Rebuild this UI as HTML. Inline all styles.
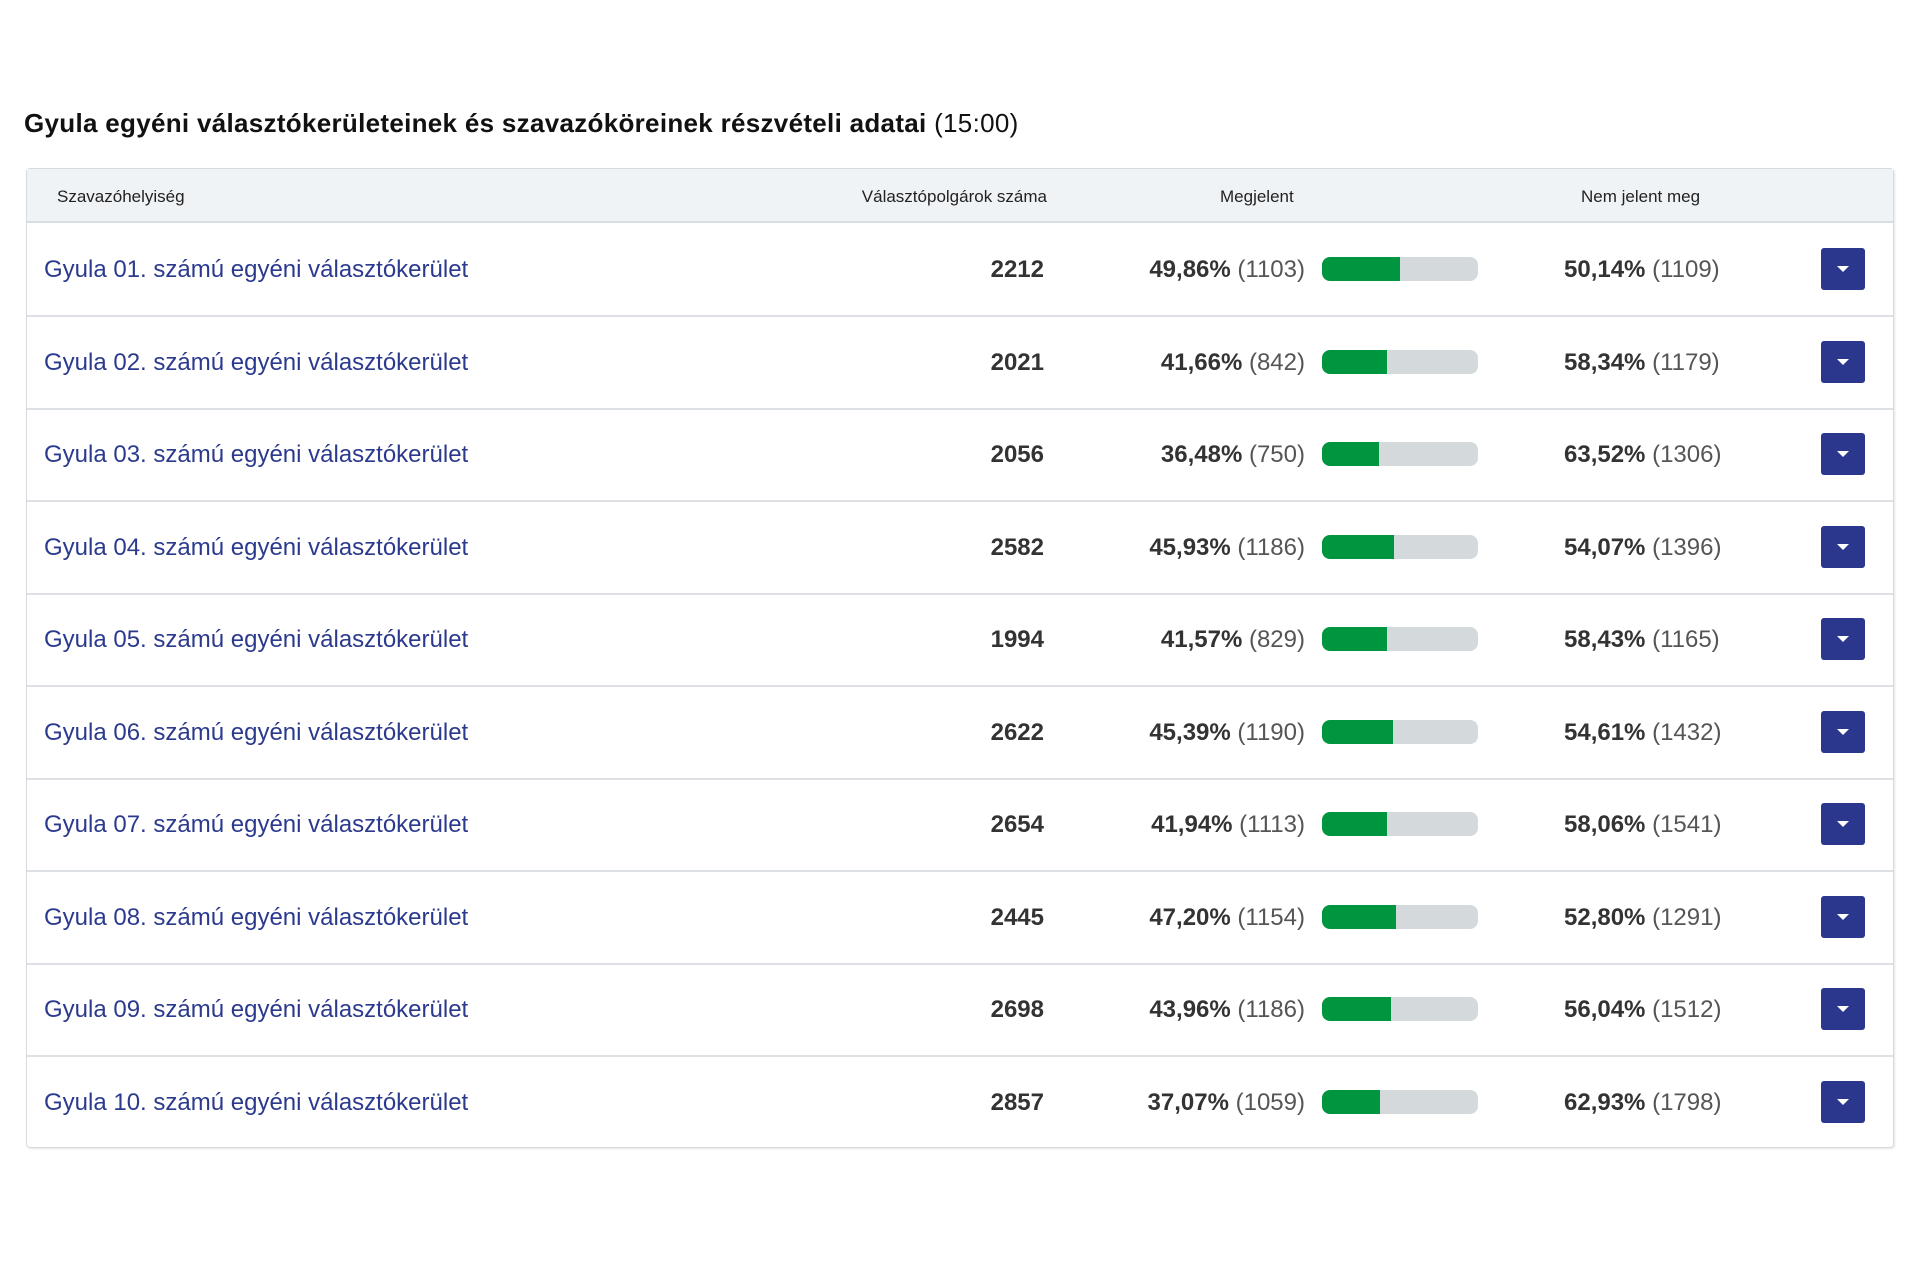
<!DOCTYPE html>
<html><head><meta charset="utf-8"><style>
body{margin:0;width:1920px;height:1280px;background:#fff;font-family:"Liberation Sans",sans-serif;position:relative;overflow:hidden}
.t{position:absolute;left:24px;top:108px;font-size:26px;color:#111;white-space:nowrap;letter-spacing:0.3px}
.tbl{position:absolute;left:26px;top:168px;width:1866px;height:978px;border:1px solid #d6dbe0;border-radius:4px;box-shadow:1px 1px 2px rgba(0,0,0,.1)}
.hd{position:absolute;left:0;top:0;right:0;height:52px;background:#f0f3f6;border-bottom:2px solid #d8dde2;font-size:17px;color:#222}
.hd span{position:absolute;top:18px;white-space:nowrap}
.row{position:absolute;left:0;right:0;height:92px;border-bottom:2px solid #dde1e5}
.row:last-child{border-bottom:none}
.row>*{position:absolute;white-space:nowrap}
.nm{left:17px;top:33px;font-size:24px;color:#2c3a8e}
.num{right:849px;top:33px;font-size:24px;font-weight:bold;color:#333}
.pc{right:588px;top:33px;font-size:24px;color:#555}
.pc b,.nj b{color:#333}
.bar{left:1295px;top:34px;width:156px;height:24px;border-radius:8px;background:#d4dadc;overflow:hidden}
.bar i{display:block;height:100%;background:#00963f}
.nj{left:1537px;top:33px;font-size:24px;color:#555}
.btn{left:1794px;top:25px;width:44px;height:42px;background:#2b378c;border-radius:3px}
.btn:after{content:"";position:absolute;left:16px;top:18px;border-left:6px solid transparent;border-right:6px solid transparent;border-top:6px solid #fff}
</style></head><body>
<div class="t"><b>Gyula egyéni választókerületeinek és szavazóköreinek részvételi adatai</b> (15:00)</div>
<div class="tbl">
<div class="hd"><span style="left:30px">Szavazóhelyiség</span><span style="right:846px">Választópolgárok száma</span><span style="left:1193px">Megjelent</span><span style="left:1554px">Nem jelent meg</span></div>
<div class="row" style="top:54px"><span class="nm">Gyula 01. számú egyéni választókerület</span><span class="num">2212</span><span class="pc"><b>49,86%</b> (1103)</span><span class="bar"><i style="width:49.86%"></i></span><span class="nj"><b>50,14%</b> (1109)</span><span class="btn"></span></div>
<div class="row" style="top:146.5px"><span class="nm">Gyula 02. számú egyéni választókerület</span><span class="num">2021</span><span class="pc"><b>41,66%</b> (842)</span><span class="bar"><i style="width:41.66%"></i></span><span class="nj"><b>58,34%</b> (1179)</span><span class="btn"></span></div>
<div class="row" style="top:239px"><span class="nm">Gyula 03. számú egyéni választókerület</span><span class="num">2056</span><span class="pc"><b>36,48%</b> (750)</span><span class="bar"><i style="width:36.48%"></i></span><span class="nj"><b>63,52%</b> (1306)</span><span class="btn"></span></div>
<div class="row" style="top:331.5px"><span class="nm">Gyula 04. számú egyéni választókerület</span><span class="num">2582</span><span class="pc"><b>45,93%</b> (1186)</span><span class="bar"><i style="width:45.93%"></i></span><span class="nj"><b>54,07%</b> (1396)</span><span class="btn"></span></div>
<div class="row" style="top:424px"><span class="nm">Gyula 05. számú egyéni választókerület</span><span class="num">1994</span><span class="pc"><b>41,57%</b> (829)</span><span class="bar"><i style="width:41.57%"></i></span><span class="nj"><b>58,43%</b> (1165)</span><span class="btn"></span></div>
<div class="row" style="top:516.5px"><span class="nm">Gyula 06. számú egyéni választókerület</span><span class="num">2622</span><span class="pc"><b>45,39%</b> (1190)</span><span class="bar"><i style="width:45.39%"></i></span><span class="nj"><b>54,61%</b> (1432)</span><span class="btn"></span></div>
<div class="row" style="top:609px"><span class="nm">Gyula 07. számú egyéni választókerület</span><span class="num">2654</span><span class="pc"><b>41,94%</b> (1113)</span><span class="bar"><i style="width:41.94%"></i></span><span class="nj"><b>58,06%</b> (1541)</span><span class="btn"></span></div>
<div class="row" style="top:701.5px"><span class="nm">Gyula 08. számú egyéni választókerület</span><span class="num">2445</span><span class="pc"><b>47,20%</b> (1154)</span><span class="bar"><i style="width:47.2%"></i></span><span class="nj"><b>52,80%</b> (1291)</span><span class="btn"></span></div>
<div class="row" style="top:794px"><span class="nm">Gyula 09. számú egyéni választókerület</span><span class="num">2698</span><span class="pc"><b>43,96%</b> (1186)</span><span class="bar"><i style="width:43.96%"></i></span><span class="nj"><b>56,04%</b> (1512)</span><span class="btn"></span></div>
<div class="row" style="top:886.5px"><span class="nm">Gyula 10. számú egyéni választókerület</span><span class="num">2857</span><span class="pc"><b>37,07%</b> (1059)</span><span class="bar"><i style="width:37.07%"></i></span><span class="nj"><b>62,93%</b> (1798)</span><span class="btn"></span></div>
</div>
</body></html>
